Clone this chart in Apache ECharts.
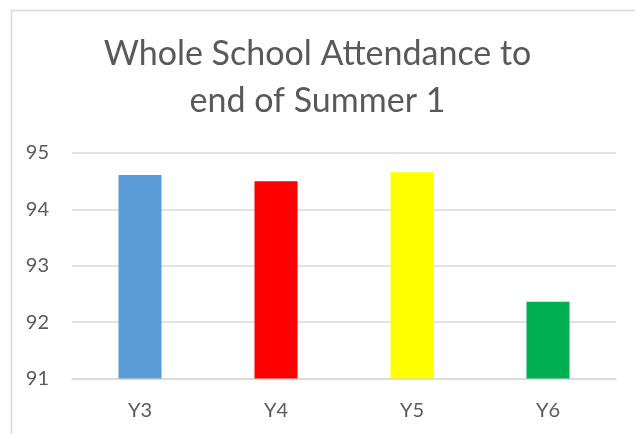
<!DOCTYPE html>
<html>
<head>
<meta charset="utf-8">
<script src="https://cdn.jsdelivr.net/npm/echarts@6/dist/echarts.min.js"></script>
<style>html,body{margin:0;padding:0;background:#fff;}#c{width:635px;height:434px;}</style>
</head>
<body>
<div id="c"></div>
<script>
var titleText = 'Whole School Attendance to\nend of Summer 1';
var categories = ['Y3', 'Y4', 'Y5', 'Y6'];
var values = [94.61, 94.5, 94.66, 92.36];
var barColors = ['#5B9BD5', '#FF0000', '#FFFF00', '#00B050'];
var yTicks = [91, 92, 93, 94, 95];

var chart = echarts.init(document.getElementById('c'));
chart.setOption({
  animation: false,
  backgroundColor: '#fff',
  graphic: [{
    type: 'rect', left: 9, top: 8, shape: { width: 640, height: 440 },
    style: { fill: 'none', stroke: '#d9d9d9', lineWidth: 1.5 }, silent: true
  }],
  title: {
    text: titleText, left: 'center', top: 26,
    textStyle: { fontFamily: 'Lato', fontSize: 34, fontWeight: 'normal', color: '#595959', lineHeight: 47 }
  },
  grid: { left: 72, right: 19, top: 153, bottom: 55.5 },
  xAxis: {
    type: 'category', data: categories,
    axisLine: { lineStyle: { color: '#d9d9d9', width: 1.5 } },
    axisTick: { show: false },
    axisLabel: { color: '#595959', fontFamily: 'Lato', fontSize: 20, margin: 22 }
  },
  yAxis: {
    type: 'value', min: yTicks[0], max: yTicks[yTicks.length - 1], interval: 1,
    axisLine: { show: false }, axisTick: { show: false },
    splitLine: { lineStyle: { color: '#d9d9d9', width: 1.5 } },
    axisLabel: { color: '#595959', fontFamily: 'Lato', fontSize: 20, margin: 23 }
  },
  series: [{
    type: 'bar', barWidth: 43,
    data: values.map(function (v, i) { return { value: v, itemStyle: { color: barColors[i] } }; })
  }]
});
</script>
</body>
</html>
